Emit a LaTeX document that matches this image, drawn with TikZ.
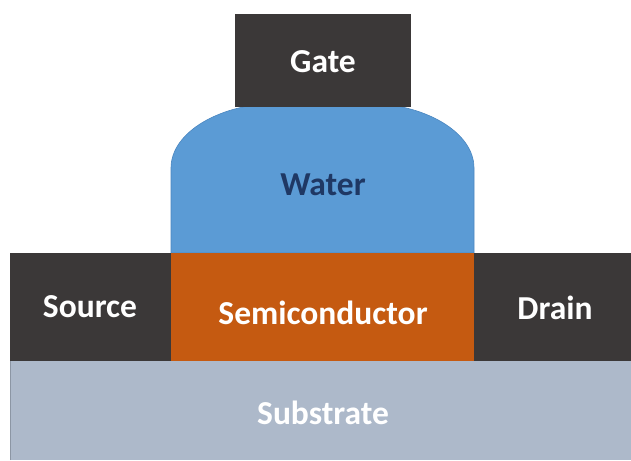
\documentclass[tikz,border=0pt]{standalone}
\usepackage{fontspec}
\setmainfont{Carlito}
\definecolor{metal}{HTML}{3B3838}
\definecolor{water}{HTML}{5B9BD5}
\definecolor{waterline}{HTML}{4A86C0}
\definecolor{semi}{HTML}{C55A11}
\definecolor{subst}{HTML}{ADB9CA}
\definecolor{substline}{HTML}{8C96A4}
\definecolor{navy}{HTML}{1F3864}
\begin{document}
\begin{tikzpicture}[x=1pt,y=1pt,
  lbl/.style={font=\bfseries\fontsize{33.5}{38}\selectfont, text=white, inner sep=0pt}]
\useasboundingbox (0,0) rectangle (631,460);
% substrate
\fill[subst] (10,0) rectangle (631,99);
\draw[substline, line width=0.6pt] (10.3,0) -- (10.3,99);
% water droplet (top hidden behind the gate)
\path[fill=water, draw=waterline, line width=0.6pt]
  (171,207) -- (171,292) arc[start angle=180, end angle=90, x radius=110, y radius=65]
  -- (364,357) arc[start angle=90, end angle=0, x radius=110, y radius=65]
  -- (474,207) -- cycle;
% electrodes and channel
\fill[metal] (10,99) rectangle (171,207);
\fill[semi] (171,99) rectangle (474,207);
\fill[metal] (474,99) rectangle (631,207);
\fill[metal] (235,353) rectangle (411,446);
% labels
\node[lbl] (gate) at (323,398) {Gate};
\node[lbl, text=navy] (wat) at (323,275) {Water};
\node[lbl] (src) at (90,153) {Source};
\node[lbl] (sc) at (323,147) {Semiconductor};
\node[lbl] (drn) at (555,152) {Drain};
\node[lbl] (sub) at (323,47) {Substrate};
\end{tikzpicture}
\end{document}
